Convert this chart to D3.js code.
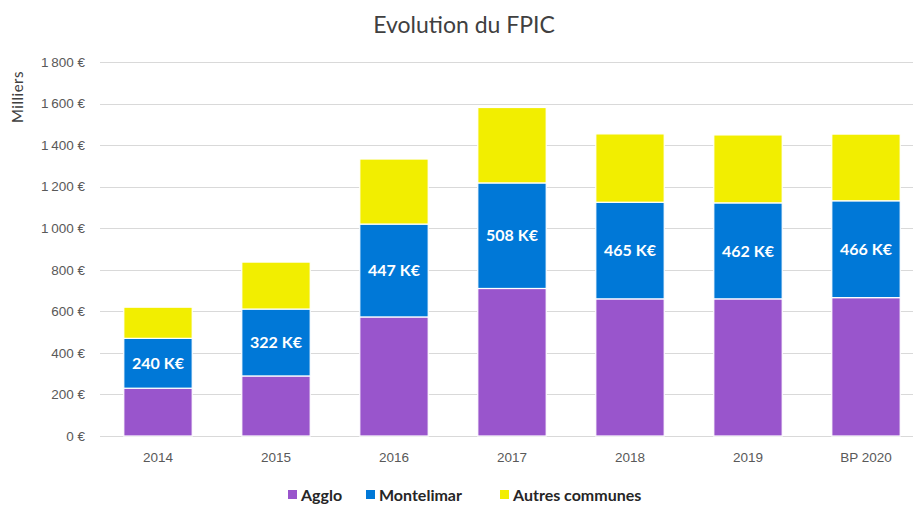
<!DOCTYPE html>
<html>
<head>
<meta charset="utf-8">
<script src="https://cdn.jsdelivr.net/npm/d3@7"></script>
<style>
  body { margin: 0; background: #fff; }
  svg { font-family: Lato, "Open Sans", sans-serif; }
</style>
</head>
<body>
<svg id="chart"></svg>
<script>
// valeurs (en milliers d'euros)
const years = ["2014", "2015", "2016", "2017", "2018", "2019", "BP 2020"];
const agglo = [230, 289, 573, 710, 660, 660, 666];
const montelimar = [240, 322, 447, 508, 465, 462, 466];
const autres = [150, 226, 313, 363, 329, 327, 321];
const series = ["Agglo", "Montelimar", "Autres communes"];
const yTicks = [0, 200, 400, 600, 800, 1000, 1200, 1400, 1600, 1800];

const width = 913, height = 506;
const colors = ["#9955CC", "#0078D7", "#F2EE00"];

const svg = d3.select("#chart")
  .attr("width", width)
  .attr("height", height);

const data = years.map((y, i) => ({
  year: y,
  "Agglo": agglo[i],
  "Montelimar": montelimar[i],
  "Autres communes": autres[i]
}));

const stacked = d3.stack().keys(series)(data);

const x = d3.scaleBand()
  .domain(years)
  .range([99, 925])
  .paddingInner(0.42)
  .paddingOuter(0.21);

const y = d3.scaleLinear()
  .domain([0, 1800])
  .range([436, 62]);

const fmt = d => d3.format(",")(d).replace(/,/g, "\u202f") + " €";

// grille
svg.append("g")
  .selectAll("line")
  .data(yTicks)
  .join("line")
  .attr("x1", 100)
  .attr("x2", 913)
  .attr("y1", d => Math.round(y(d)) + 0.5)
  .attr("y2", d => Math.round(y(d)) + 0.5)
  .attr("stroke", "#d9d9d9")
  .attr("stroke-width", 1);

// axe Y
const yAxis = svg.append("g")
  .attr("transform", "translate(91,0)")
  .call(d3.axisLeft(y).tickValues(yTicks).tickSize(0).tickPadding(6).tickFormat(fmt));
yAxis.select(".domain").remove();
yAxis.selectAll("text")
  .attr("fill", "#595959")
  .style("font-size", "13.5px");

// axe X
const xAxis = svg.append("g")
  .attr("transform", "translate(0,436)")
  .call(d3.axisBottom(x).tickSize(0).tickPadding(16));
xAxis.select(".domain").remove();
xAxis.selectAll("text")
  .attr("fill", "#595959")
  .style("font-size", "13.5px");

// barres empilées
svg.append("g")
  .selectAll("g")
  .data(stacked)
  .join("g")
  .attr("fill", (d, i) => colors[i])
  .selectAll("rect")
  .data(d => d)
  .join("rect")
  .attr("x", d => x(d.data.year))
  .attr("y", d => y(d[1]))
  .attr("width", x.bandwidth())
  .attr("height", d => y(d[0]) - y(d[1]))
  .attr("stroke", "#ffffff")
  .attr("stroke-width", 1.2);

// étiquettes Montelimar
svg.append("g")
  .selectAll("text")
  .data(stacked[1])
  .join("text")
  .attr("x", d => x(d.data.year) + x.bandwidth() / 2)
  .attr("y", d => (y(d[0]) + y(d[1])) / 2)
  .attr("dy", "0.36em")
  .attr("text-anchor", "middle")
  .attr("fill", "#ffffff")
  .style("font-size", "16px")
  .style("font-weight", "bold")
  .text(d => `${d.data["Montelimar"]} K€`);

// titre
svg.append("text")
  .attr("x", 464)
  .attr("y", 33)
  .attr("text-anchor", "middle")
  .attr("fill", "#404040")
  .style("font-size", "23px")
  .text("Evolution du FPIC");

// titre axe Y
svg.append("text")
  .attr("transform", "translate(23,97) rotate(-90)")
  .attr("text-anchor", "middle")
  .attr("fill", "#404040")
  .style("font-size", "15px")
  .style("letter-spacing", "0.5px")
  .text("Milliers");

// légende
const legendX = [288, 366, 500];
const legend = svg.append("g")
  .selectAll("g")
  .data(series)
  .join("g")
  .attr("transform", (d, i) => `translate(${legendX[i]},499)`);

legend.append("rect")
  .attr("x", 0)
  .attr("y", -9)
  .attr("width", 9)
  .attr("height", 9)
  .attr("fill", (d, i) => colors[i]);

legend.append("text")
  .attr("x", 13)
  .attr("y", 0)
  .attr("dy", "0.1em")
  .attr("fill", "#262626")
  .style("font-size", "16px")
  .style("font-weight", "bold")
  .text(d => d);
</script>
</body>
</html>
